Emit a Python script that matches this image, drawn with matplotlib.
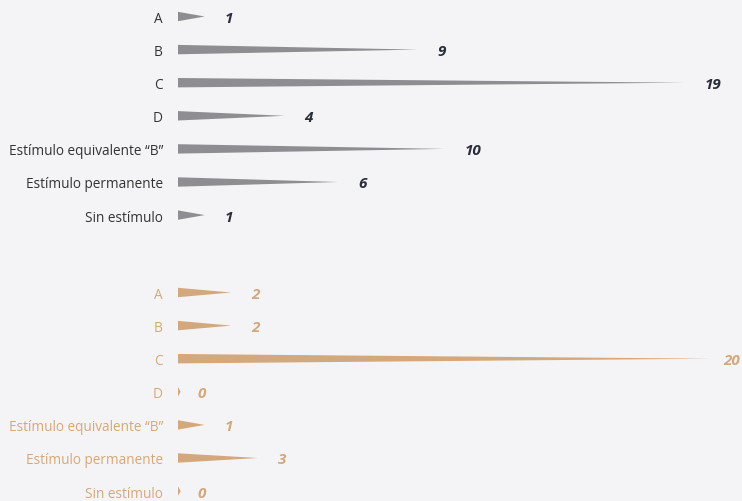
import matplotlib.pyplot as plt
from matplotlib.patches import Polygon

categories = ['A', 'B', 'C', 'D', 'Estímulo equivalente “B”', 'Estímulo permanente', 'Sin estímulo']
grey_values = [1, 9, 19, 4, 10, 6, 1]
tan_values = [2, 2, 20, 0, 1, 3, 0]

bg = '#f4f4f7'
grey = '#8e8e92'
tan = '#d3a87c'
dark = '#2b2d3c'

px_per_unit = 26.65
x0 = 178
W, H = 742, 502

fig = plt.figure(figsize=(W / 100, H / 100), dpi=100, facecolor=bg)
ax = fig.add_axes([0, 0, 1, 1])
ax.set_facecolor(bg)
ax.set_xlim(-x0 / px_per_unit, (W - x0) / px_per_unit)
ax.set_ylim(H, 0)
ax.axis('off')

step = 33.1
half = 4.7
groups = [
    (grey_values, 17.5, grey, '#333333', dark),
    (tan_values, 293.5, tan, '#d6a878', tan),
]
for values, top, bar_col, cat_col, val_col in groups:
    for i, (cat, v) in enumerate(zip(categories, values)):
        y = top + i * step
        length = max(v, 0.1)
        ax.add_patch(Polygon([(0, y - half), (0, y + half), (length, y)],
                             closed=True, facecolor=bar_col, edgecolor='none'))
        ax.text(-15 / px_per_unit, y, cat, ha='right', va='center_baseline',
                fontsize=9.8, family='Open Sans', color=cat_col)
        lx = v + 20 / px_per_unit
        ha = 'left'
        if x0 + lx * px_per_unit + 9 * len(str(v)) > W - 2:
            lx, ha = (W - 2 - x0) / px_per_unit, 'right'
        ax.text(lx, y, str(v), ha=ha, va='center_baseline', fontsize=11,
                family='Open Sans', fontweight='bold', fontstyle='italic', color=val_col)

fig.savefig('out.png', dpi=100, facecolor=bg)
